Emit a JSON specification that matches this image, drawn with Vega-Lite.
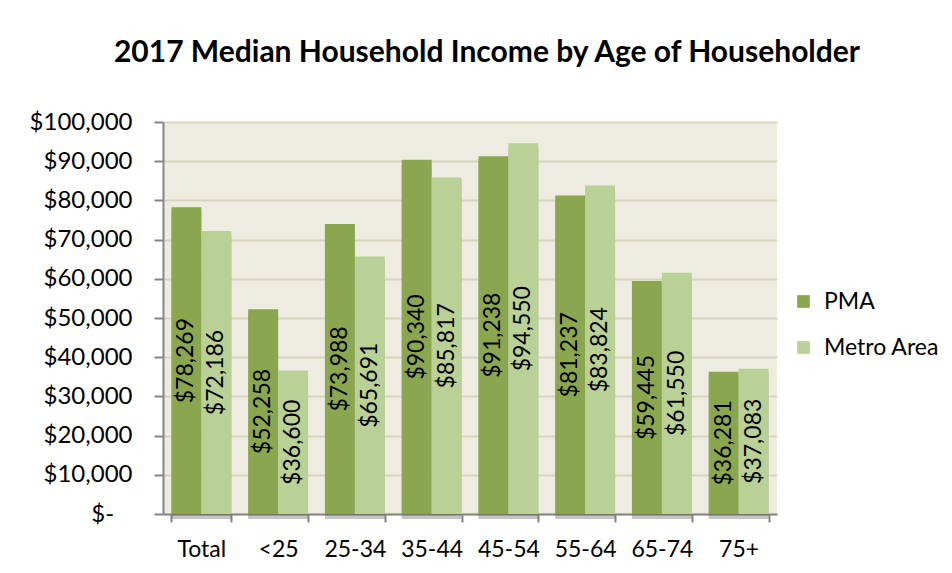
{
  "$schema": "https://vega.github.io/schema/vega-lite/v6.json",
  "autosize": {"type": "none"},
  "padding": {"left": 163, "top": 122, "right": 175, "bottom": 59},
  "width": 614,
  "height": 392,
  "background": "#FFFFFF",
  "title": {
    "text": "2017 Median Household Income by Age of Householder",
    "font": "Lato",
    "fontSize": 30,
    "fontWeight": "bold",
    "color": "#000000",
    "anchor": "middle",
    "dx": 17,
    "baseline": "alphabetic",
    "offset": 18
  },
  "data": {
    "values": [
      {"age": "Total", "series": "PMA", "value": 78269},
      {"age": "Total", "series": "Metro Area", "value": 72186},
      {"age": "<25", "series": "PMA", "value": 52258},
      {"age": "<25", "series": "Metro Area", "value": 36600},
      {"age": "25-34", "series": "PMA", "value": 73988},
      {"age": "25-34", "series": "Metro Area", "value": 65691},
      {"age": "35-44", "series": "PMA", "value": 90340},
      {"age": "35-44", "series": "Metro Area", "value": 85817},
      {"age": "45-54", "series": "PMA", "value": 91238},
      {"age": "45-54", "series": "Metro Area", "value": 94550},
      {"age": "55-64", "series": "PMA", "value": 81237},
      {"age": "55-64", "series": "Metro Area", "value": 83824},
      {"age": "65-74", "series": "PMA", "value": 59445},
      {"age": "65-74", "series": "Metro Area", "value": 61550},
      {"age": "75+", "series": "PMA", "value": 36281},
      {"age": "75+", "series": "Metro Area", "value": 37083}
    ]
  },
  "encoding": {
    "x": {
      "field": "age",
      "type": "nominal",
      "sort": ["Total", "<25", "25-34", "35-44", "45-54", "55-64", "65-74", "75+"],
      "scale": {"paddingInner": 0.22, "paddingOuter": 0.11},
      "axis": {
        "title": null,
        "labelAngle": 0,
        "tickBand": "extent",
        "tickSize": 8,
        "tickWidth": 2,
        "tickColor": "#868686",
        "domainColor": "#868686",
        "domainWidth": 2,
        "labelFont": "Lato",
        "labelFontSize": 23,
        "labelColor": "#000000",
        "labelPadding": 16,
        "grid": false
      }
    },
    "xOffset": {
      "field": "series",
      "type": "nominal",
      "sort": ["PMA", "Metro Area"],
      "scale": {"paddingInner": 0, "paddingOuter": 0}
    }
  },
  "layer": [
    {
      "mark": {"type": "bar", "fill": "#595959", "opacity": 0.35, "xOffset": 5, "yOffset": 5},
      "encoding": {
        "y": {
          "field": "value",
          "type": "quantitative",
          "scale": {"domain": [0, 100000]},
          "axis": {
            "title": null,
            "values": [0, 10000, 20000, 30000, 40000, 50000, 60000, 70000, 80000, 90000, 100000],
            "labelOverlap": false,
            "labelExpr": "datum.value == 0 ? '$-\u00a0\u00a0\u00a0\u200b' : format(datum.value, '$,')",
            "tickSize": 9,
            "tickWidth": 2,
            "tickColor": "#868686",
            "domainColor": "#868686",
            "domainWidth": 2,
            "labelFont": "Lato",
            "labelFontSize": 24,
            "labelColor": "#000000",
            "labelPadding": 22,
            "grid": true,
            "gridColor": "#D9D4BD",
            "gridWidth": 2
          }
        }
      }
    },
    {
      "mark": {"type": "bar"},
      "encoding": {
        "y": {"field": "value", "type": "quantitative", "scale": {"domain": [0, 100000]}, "axis": null},
        "color": {
          "field": "series",
          "type": "nominal",
          "sort": ["PMA", "Metro Area"],
          "scale": {"domain": ["PMA", "Metro Area"], "range": ["#8AA64E", "#B9D096"]},
          "legend": {
            "title": null,
            "orient": "none",
            "legendX": 629,
            "legendY": 168,
            "symbolType": "square",
            "symbolSize": 160,
            "symbolStrokeWidth": 0,
            "labelFont": "Lato",
            "labelFontSize": 23,
            "labelColor": "#000000",
            "labelOffset": 9,
            "rowPadding": 22
          }
        }
      }
    },
    {
      "mark": {"type": "text", "angle": -90, "align": "center", "baseline": "middle", "font": "Lato", "fontSize": 23, "color": "#000000"},
      "encoding": {
        "y": {"field": "value", "type": "quantitative", "scale": {"domain": [0, 200000]}, "axis": null},
        "text": {"field": "value", "type": "quantitative", "format": "$,"}
      }
    }
  ],
  "resolve": {"scale": {"y": "independent"}},
  "config": {
    "view": {"fill": "#EEECE1", "stroke": null}
  }
}
